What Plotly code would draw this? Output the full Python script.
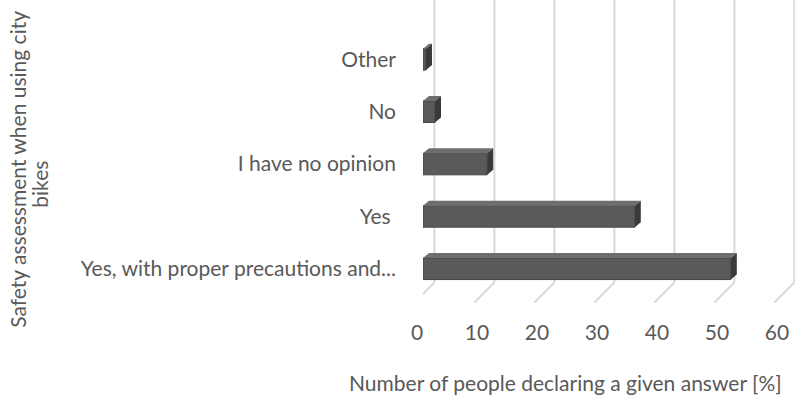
import plotly.graph_objects as go

categories = ["Yes, with proper precautions and...", "Yes ", "I have no opinion", "No", "Other"]
values = [51.3, 35.3, 10.7, 2.0, 0.5]
tick_vals = [0, 10, 20, 30, 40, 50, 60]

FONT = "Lato"
TXT = "#595959"
FS = 21

L, R, T, B = 423, 9, 7, 101.5
PW = 804 - L - R          # plot width in px (62 units)
PH = 397 - T - B          # plot height in px
UX = PW / 62.0            # px per x unit
UY = PH / 5.5             # px per category
BOTTOM = 397 - B

BAR_W = 0.41
DX = 6 / UX               # depth offset (x)
DY = 5 / UY               # depth offset (y)
GOFF = 11.4 / UX          # back-wall gridline offset

fig = go.Figure()
fig.add_trace(go.Bar(
    y=categories, x=values, orientation="h",
    width=BAR_W,
    marker=dict(color="#5a5a5a", line=dict(color="#444444", width=1)),
    showlegend=False,
))

shapes = []
floor_y = (BOTTOM - 283) / PH
front_y = (BOTTOM - 303) / PH
for t in tick_vals:
    shapes.append(dict(type="line", xref="x", yref="paper", x0=t + GOFF, y0=floor_y, x1=t + GOFF, y1=1 + T / PH,
                       line=dict(color="#d9d9d9", width=2), layer="below"))
    shapes.append(dict(type="line", xref="x", yref="paper", x0=t + GOFF, y0=floor_y, x1=t + GOFF - 20 / UX, y1=front_y,
                       line=dict(color="#d9d9d9", width=2), layer="below"))
shapes.append(dict(type="line", xref="x", yref="paper", x0=-1, y0=front_y, x1=-1, y1=1 + T / PH,
                   line=dict(color="#d9d9d9", width=2), layer="below"))

for i, v in enumerate(values):
    top = i + BAR_W / 2
    bot = i - BAR_W / 2
    shapes.append(dict(type="path", xref="x", yref="y",
                       path=f"M 0 {top} L {v} {top} L {v + DX} {top + DY} L {DX} {top + DY} Z",
                       fillcolor="#6e6e6e", line=dict(width=0), layer="above"))
    shapes.append(dict(type="path", xref="x", yref="y",
                       path=f"M {v} {bot} L {v} {top} L {v + DX} {top + DY} L {v + DX} {bot + DY} Z",
                       fillcolor="#3a3a3a", line=dict(width=0), layer="above"))

fig.update_layout(
    width=804, height=397,
    margin=dict(l=L, r=R, t=T, b=B),
    paper_bgcolor="white", plot_bgcolor="white",
    font=dict(family=FONT, size=FS, color=TXT),
    xaxis=dict(
        range=[0, 62], tickvals=tick_vals, showgrid=False, zeroline=False,
        showline=False, ticks="", ticklabelstandoff=23, ticklabelshift=-6,
        tickfont=dict(size=FS, color=TXT),
    ),
    yaxis=dict(
        categoryorder="array", categoryarray=categories,
        range=[-0.5, 5.0], showgrid=False, zeroline=False, showline=False,
        ticks="", ticklabelstandoff=26, tickfont=dict(size=FS, color=TXT),
    ),
    shapes=shapes,
    annotations=[
        dict(text="Number of people declaring a given answer [%]", xref="paper", yref="paper",
             x=(565 - L) / PW, y=(BOTTOM - 383) / PH, showarrow=False, xanchor="center", yanchor="middle",
             font=dict(size=FS, color=TXT, family=FONT)),
        dict(text="Safety assessment when using city", xref="paper", yref="paper",
             x=(18 - L) / PW, y=(BOTTOM - 170) / PH, textangle=-90, showarrow=False,
             xanchor="center", yanchor="middle",
             font=dict(size=FS, color=TXT, family=FONT)),
        dict(text="bikes", xref="paper", yref="paper",
             x=(40 - L) / PW, y=(BOTTOM - 185) / PH, textangle=-90, showarrow=False,
             xanchor="center", yanchor="middle",
             font=dict(size=FS, color=TXT, family=FONT)),
    ],
)

fig.write_html("out.html")
